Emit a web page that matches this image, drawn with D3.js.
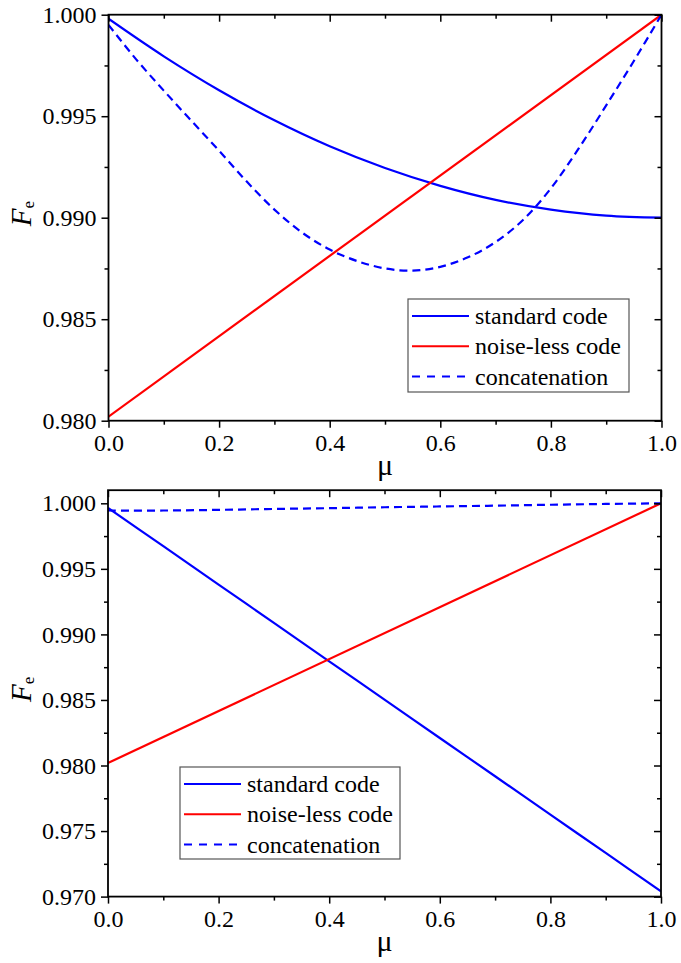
<!DOCTYPE html>
<html>
<head>
<meta charset="utf-8">
<title>Fe vs mu</title>
<style>
	body{ margin:0; background:#fff; }
	.axis path{ display:none; }
	.axis line{ stroke:#000; stroke-width:1.5; }
</style>
</head>
<body>
<script src="https://d3js.org/d3.v7.min.js"></script>
<script type="text/javascript">

// values
var mu = [0, 0.1, 0.2, 0.3, 0.4, 0.5, 0.6, 0.7, 0.8, 0.9, 1.0],
	muFine = [0, 0.05, 0.1, 0.15, 0.2, 0.25, 0.3, 0.35, 0.4, 0.45, 0.5,
		0.55, 0.6, 0.65, 0.7, 0.75, 0.8, 0.85, 0.9, 0.95, 1.0],
	muEnds = [0, 1.0];

var topStandard  = [0.9998, 0.99795, 0.99628, 0.9948, 0.99352, 0.99245, 0.99157, 0.99088, 0.9904, 0.9901, 0.9900],
	topNoiseless = [0.9802, 1.0000],
	topConcat    = [0.9995, 0.9978, 0.99626, 0.99477, 0.9933, 0.99178, 0.9904, 0.98927, 0.98843, 0.98786, 0.9875,
		0.98739, 0.98758, 0.98805, 0.9888, 0.9899, 0.99145, 0.9934, 0.99553, 0.99772, 1.0000];

var botStandard  = [0.99965, 0.99673, 0.9938, 0.99088, 0.98795, 0.98503, 0.9821, 0.97918, 0.97625, 0.97333, 0.9704],
	botNoiseless = [0.9802, 1.0000],
	botConcat    = [0.99945, 0.99945, 0.9995, 0.99957, 0.99963, 0.9997, 0.99976, 0.99982, 0.99989, 0.99995, 1.0000];

var seriesNames = ["standard code", "noise-less code", "concatenation"];

var xMajor = [0, 0.2, 0.4, 0.6, 0.8, 1.0],
	xMinor = [0.1, 0.3, 0.5, 0.7, 0.9],
	topYMajor = [0.980, 0.985, 0.990, 0.995, 1.000],
	topYMinor = [0.9825, 0.9875, 0.9925, 0.9975],
	botYMajor = [0.970, 0.975, 0.980, 0.985, 0.990, 0.995, 1.000],
	botYMinor = [0.9725, 0.9775, 0.9825, 0.9875, 0.9925, 0.9975];

var FONT = "'Liberation Serif', Tinos, 'Times New Roman', Times, 'Nimbus Roman', 'Nimbus Roman No9 L', " +
	"FreeSerif, 'DejaVu Serif', 'Noto Serif', 'Noto Serif CJK SC', 'Noto Serif CJK JP', serif";

var svg = d3.select('body').append('svg').attr('width', 681).attr('height', 963)
	.style('font-family', FONT);

var panels = [
	{ x0:108.5, x1:661.5, y0:14.7, y1:420.7, yDomain:[0.980, 1.000], yMajor:topYMajor, yMinor:topYMinor,
	  series:[{x:mu, y:topStandard}, {x:muEnds, y:topNoiseless}, {x:muFine, y:topConcat}],
	  legend:{x:408, y:299, w:221, h:93} },
	{ x0:108, x1:661, y0:490.2, y1:896.6, yDomain:[0.970, 1.001], yMajor:botYMajor, yMinor:botYMinor,
	  series:[{x:mu, y:botStandard}, {x:muEnds, y:botNoiseless}, {x:mu, y:botConcat}],
	  legend:{x:180, y:767, w:220, h:92} }
];

var styles = [
	{color:'#0000ff', dash:null},
	{color:'#ff0000', dash:null},
	{color:'#0000ff', dash:'8,5'}
];

panels.forEach(function(p, pi){
	var x = d3.scaleLinear().domain([0, 1]).range([p.x0, p.x1]),
		y = d3.scaleLinear().domain(p.yDomain).range([p.y1, p.y0]),
		g = svg.append('g');

	g.append('clipPath').attr('id', 'clip' + pi)
		.append('rect').attr('x', p.x0).attr('y', p.y0)
		.attr('width', p.x1 - p.x0).attr('height', p.y1 - p.y0);

	var line = d3.line().curve(d3.curveCatmullRom.alpha(0.5));

	p.series.forEach(function(s, si){
		var pts = s.x.map(function(v, i){ return [x(v), y(s.y[i])]; });
		g.append('path')
			.attr('d', line(pts))
			.attr('clip-path', 'url(#clip' + pi + ')')
			.style('fill', 'none')
			.style('stroke', styles[si].color)
			.style('stroke-width', 2.2)
			.style('stroke-dasharray', styles[si].dash);
	});

	// axes: left/bottom outward with labels, top/right inward
	var axes = [
		g.append('g').attr('transform', 'translate(' + p.x0 + ',0)')
			.call(d3.axisLeft(y).tickValues(p.yMajor).tickSize(7).tickPadding(5).tickFormat(d3.format('.3f'))),
		g.append('g').attr('transform', 'translate(' + p.x0 + ',0)')
			.call(d3.axisLeft(y).tickValues(p.yMinor).tickSize(4).tickFormat('')),
		g.append('g').attr('transform', 'translate(' + p.x1 + ',0)')
			.call(d3.axisRight(y).tickValues(p.yMajor).tickSize(-7).tickFormat('')),
		g.append('g').attr('transform', 'translate(' + p.x1 + ',0)')
			.call(d3.axisRight(y).tickValues(p.yMinor).tickSize(-4).tickFormat('')),
		g.append('g').attr('transform', 'translate(0,' + p.y1 + ')')
			.call(d3.axisBottom(x).tickValues(xMajor).tickSize(7).tickPadding(6).tickFormat(d3.format('.1f'))),
		g.append('g').attr('transform', 'translate(0,' + p.y1 + ')')
			.call(d3.axisBottom(x).tickValues(xMinor).tickSize(4).tickFormat('')),
		g.append('g').attr('transform', 'translate(0,' + p.y0 + ')')
			.call(d3.axisTop(x).tickValues(xMajor).tickSize(-7).tickFormat('')),
		g.append('g').attr('transform', 'translate(0,' + p.y0 + ')')
			.call(d3.axisTop(x).tickValues(xMinor).tickSize(-4).tickFormat(''))
	];
	axes.forEach(function(a){
		a.attr('class', 'axis').attr('font-family', null).attr('font-size', null);
		a.selectAll('text').style('font-family', FONT).style('font-size', '24px').style('fill', '#000');
	});

	g.append('rect')
		.attr('x', p.x0).attr('y', p.y0)
		.attr('width', p.x1 - p.x0).attr('height', p.y1 - p.y0)
		.style('fill', 'none').style('stroke', '#000').style('stroke-width', 1.8);

	// axis titles
	g.append('text')
		.attr('x', (p.x0 + p.x1) / 2).attr('y', p.y1 + 54)
		.attr('text-anchor', 'middle')
		.style('font-family', FONT).style('font-size', '30px')
		.text('μ');

	var yt = g.append('text')
		.attr('transform', 'translate(31,' + ((p.y0 + p.y1) / 2 - 4) + ') rotate(-90)')
		.attr('text-anchor', 'middle')
		.style('font-family', FONT);
	yt.append('tspan').style('font-size', '29px').style('font-style', 'italic').text('F');
	yt.append('tspan').style('font-size', '17px').attr('dy', 3).text('e');

	// legend
	var L = p.legend,
		lg = g.append('g');
	lg.append('rect')
		.attr('x', L.x).attr('y', L.y).attr('width', L.w).attr('height', L.h)
		.style('fill', '#fff').style('stroke', '#555').style('stroke-width', 1.2);
	seriesNames.forEach(function(name, i){
		var cy = L.y + 17 + i * 30.3;
		lg.append('line')
			.attr('x1', L.x + 4).attr('x2', L.x + 61).attr('y1', cy).attr('y2', cy)
			.style('stroke', styles[i].color).style('stroke-width', 2)
			.style('stroke-dasharray', styles[i].dash ? '8,7' : null);
		lg.append('text')
			.attr('x', L.x + 67).attr('y', cy + 8)
			.style('font-family', FONT).style('font-size', '24px')
			.text(name);
	});
});
</script>
</body>
</html>
